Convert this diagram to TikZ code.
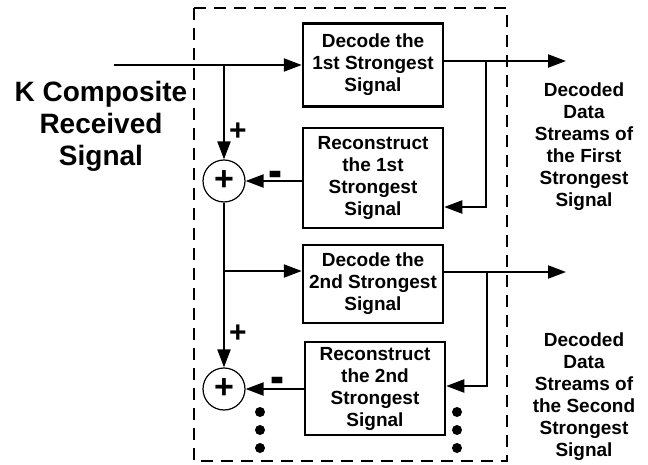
\documentclass[tikz,border=0pt]{standalone}
\usepackage{fontspec}
\setmainfont{Liberation Sans}
\usetikzlibrary{arrows.meta}

\begin{document}
\begin{tikzpicture}[x=1pt, y=-1pt,
        blk/.style={draw, line width=2.5pt, minimum width=140pt, align=center, inner sep=0pt,
            font=\fontsize{19}{22}\selectfont\bfseries},
        sum/.style={draw, circle, line width=1.2pt, minimum size=42pt, inner sep=0pt,
            font=\fontsize{34}{34}\selectfont\bfseries},
        sig/.style={line width=2.2pt, -{Triangle[length=18pt, width=13pt]}},
        txt/.style={align=center, font=\fontsize{19}{22}\selectfont\bfseries},
        sgn/.style={inner sep=0pt, font=\fontsize{30}{30}\selectfont\bfseries},
        dot/.style={circle, fill, inner sep=0pt, minimum size=10pt}]
            \useasboundingbox (0, 0) rectangle (648, 465);
            \draw[line width=1.3pt, dash pattern=on 12pt off 8pt] (194, 8) rectangle (507, 461);
            \node[blk, minimum height=83pt] (dec1) at (373, 65) {Decode the\\1st Strongest\\Signal};
            \node[blk, minimum height=100pt] (rec1) at (373, 178) {Reconstruct\\the 1st\\Strongest\\Signal};
            \node[blk, minimum height=78pt] (dec2) at (373, 284) {Decode the\\2nd Strongest\\Signal};
            \node[blk, minimum height=93pt] (rec2) at (375, 388.5) {Reconstruct\\the 2nd\\Strongest\\Signal};
            \node[sum] (sum1) at (224, 181) {+};
            \node[sum] (sum2) at (224, 389) {+};
            \node[align=center, font=\fontsize{28}{32}\selectfont\bfseries] (inp) at (101, 126) {K Composite\\Received\\Signal};
            \node[txt] (res1) at (584, 147) {Decoded\\Data\\Streams of\\the First\\Strongest\\Signal};
            \node[txt] (res2) at (584, 397) {Decoded\\Data\\Streams of\\the Second\\Strongest\\Signal};
            \node[sgn] (plus1) at (238, 132) {+};
            \node[sgn] (plus2) at (238, 334) {+};
            \node[sgn] (minus1) at (275, 180) {\scalebox{1.4}[1.8]{-}};
            \node[sgn] (minus2) at (277, 386) {\scalebox{1.4}[1.8]{-}};
            \foreach \y in {412, 430, 448} {
                \node[dot] (dl\y) at (260, \y) {};
                \node[dot] (dr\y) at (457, \y) {};
            }
            \coordinate (in1) at (114, 65);
            \coordinate (fork1) at (224, 65);
            \coordinate (out1) at (566, 61);
            \coordinate (fb1) at (486, 207);
            \coordinate (fork2) at (224, 271);
            \coordinate (out2) at (566, 272);
            \coordinate (fb2) at (487, 386);
            \draw[sig] (in1) -- (dec1.west);
            \draw[sig] (fork1) -- (sum1.north);
            \draw[sig] (rec1.west |- sum1) -- (sum1.east);
            \draw[sig] (dec1.east |- out1) -- (out1);
            \draw[sig] (fb1 |- out1) -- (fb1) -- (rec1.east |- fb1);
            \draw[sig] (sum1.south) -- (sum2.north);
            \draw[sig] (fork2) -- (dec2.west |- fork2);
            \draw[sig] (rec2.west |- sum2) -- (sum2.east);
            \draw[sig] (dec2.east |- out2) -- (out2);
            \draw[sig] (fb2 |- out2) -- (fb2) -- (rec2.east |- fb2);
        \end{tikzpicture}
\end{document}
